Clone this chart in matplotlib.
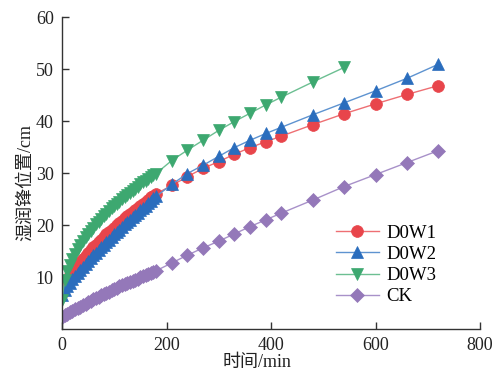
import matplotlib
matplotlib.use("Agg")
import matplotlib.pyplot as plt

plt.rcParams['font.family'] = ['Liberation Serif', 'Noto Sans CJK SC', 'DejaVu Sans']
plt.rcParams['mathtext.fontset'] = 'stix'

# time (min)
t_dense = [0, 5, 10, 15, 20, 25, 30, 35, 40, 45, 50, 55, 60, 65, 70, 75, 80, 85, 90,
           95, 100, 105, 110, 115, 120, 125, 130, 135, 140, 145, 150, 155, 160, 165,
           170, 175, 180]
t_late = [210, 240, 270, 300, 330, 360, 390, 420, 480, 540, 600, 660, 720]
t_late_w3 = [210, 240, 270, 300, 330, 360, 390, 420, 480, 540]

d0w1_dense = [7.0, 8.5, 9.4, 10.3, 11.0, 11.7, 12.3, 12.9, 13.5, 14.1, 14.7, 15.2, 15.7,
              16.2, 16.7, 17.2, 17.7, 18.2, 18.6, 19.1, 19.5, 20.0, 20.4, 20.8, 21.3,
              21.7, 22.1, 22.5, 22.9, 23.3, 23.7, 24.1, 24.5, 24.9, 25.3, 25.6, 26.0]
d0w1_late = [27.6, 29.3, 30.9, 32.2, 33.6, 34.9, 36.0, 37.1, 39.3, 41.4, 43.3, 45.1, 46.8]

d0w2_dense = [6.5, 7.5, 8.2, 8.9, 9.6, 10.2, 10.8, 11.4, 12.0, 12.5, 13.1, 13.6, 14.2,
              14.7, 15.2, 15.7, 16.2, 16.7, 17.2, 17.7, 18.2, 18.7, 19.1, 19.6, 20.1,
              20.6, 21.0, 21.5, 21.9, 22.4, 22.9, 23.3, 23.7, 24.2, 24.6, 25.1, 25.5]
d0w2_late = [27.8, 29.9, 31.5, 33.2, 34.9, 36.3, 37.6, 38.8, 41.2, 43.5, 45.8, 48.2, 50.9]

d0w3_dense = [5.5, 9.5, 11.1, 12.4, 13.5, 14.5, 15.4, 16.2, 16.9, 17.6, 18.3, 18.9, 19.5,
              20.1, 20.6, 21.2, 21.7, 22.2, 22.7, 23.2, 23.6, 24.1, 24.5, 25.0, 25.4,
              25.8, 26.2, 26.6, 27.0, 27.4, 27.8, 28.2, 28.5, 28.9, 29.3, 29.6, 29.9]
d0w3_late = [32.4, 34.4, 36.3, 38.2, 39.9, 41.5, 43.1, 44.6, 47.5, 50.3]

ck_dense = [2.3, 2.6, 2.9, 3.2, 3.5, 3.8, 4.0, 4.3, 4.6, 4.9, 5.2, 5.4, 5.7, 5.9, 6.2,
            6.5, 6.7, 7.0, 7.2, 7.5, 7.7, 7.9, 8.2, 8.4, 8.6, 8.9, 9.1, 9.3, 9.5, 9.7,
            10.0, 10.2, 10.4, 10.6, 10.8, 11.0, 11.2]
ck_late = [12.7, 14.2, 15.6, 16.9, 18.3, 19.7, 21.0, 22.3, 24.8, 27.4, 29.7, 32.0, 34.3]

labels = ['D0W1', 'D0W2', 'D0W3', 'CK']
xticks = [0, 200, 400, 600, 800]
yticks = [10, 20, 30, 40, 50, 60]

fig = plt.figure(figsize=(5.02, 3.74), dpi=100)
ax = fig.add_axes([0.1235, 0.1203, 0.8327, 0.8342])

series = [
    (t_dense + t_late, d0w1_dense + d0w1_late, 'o', '#E8454B', '#EE6F73', 8.5),
    (t_dense + t_late, d0w2_dense + d0w2_late, '^', '#2A6DBD', '#5E93D0', 9),
    (t_dense + t_late_w3, d0w3_dense + d0w3_late, 'v', '#3DA870', '#6CBF92', 9),
    (t_dense + t_late, ck_dense + ck_late, 'D', '#9478B9', '#A891C9', 7),
]
for (x, y, m, mc, lc, ms), lab in zip(series, labels):
    ax.plot(x, y, color=lc, lw=1.0, marker=m, markersize=ms,
            markerfacecolor=mc, markeredgecolor=mc, markeredgewidth=0.5, label=lab)

ax.set_xlim(0, 800)
ax.set_ylim(0, 60)
ax.set_xticks(xticks)
ax.set_yticks(yticks)
for s in ['top', 'right']:
    ax.spines[s].set_visible(False)
for s in ['left', 'bottom']:
    ax.spines[s].set_linewidth(1.0)
    ax.spines[s].set_color('#333333')
ax.tick_params(direction='in', length=5, width=1.0, labelsize=13, color='#333333',
               labelcolor='#222222')
ax.tick_params(axis='y', pad=6)
ax.tick_params(axis='x', pad=6)

ax.set_xlabel('时间/min', fontsize=13, color='#222222')
ax.xaxis.set_label_coords(0.467, -0.08)
ax.set_ylabel('湿润锋位置/cm', fontsize=13, color='#222222')
ax.yaxis.set_label_coords(-0.066, 0.47)

leg = ax.legend(loc='upper left', bbox_to_anchor=(0.655, 0.335), frameon=False,
                fontsize=13.5, handlelength=2.3, handletextpad=0.4, labelspacing=0.22,
                borderaxespad=0.0, borderpad=0.0)

fig.savefig('out.png', dpi=100)
